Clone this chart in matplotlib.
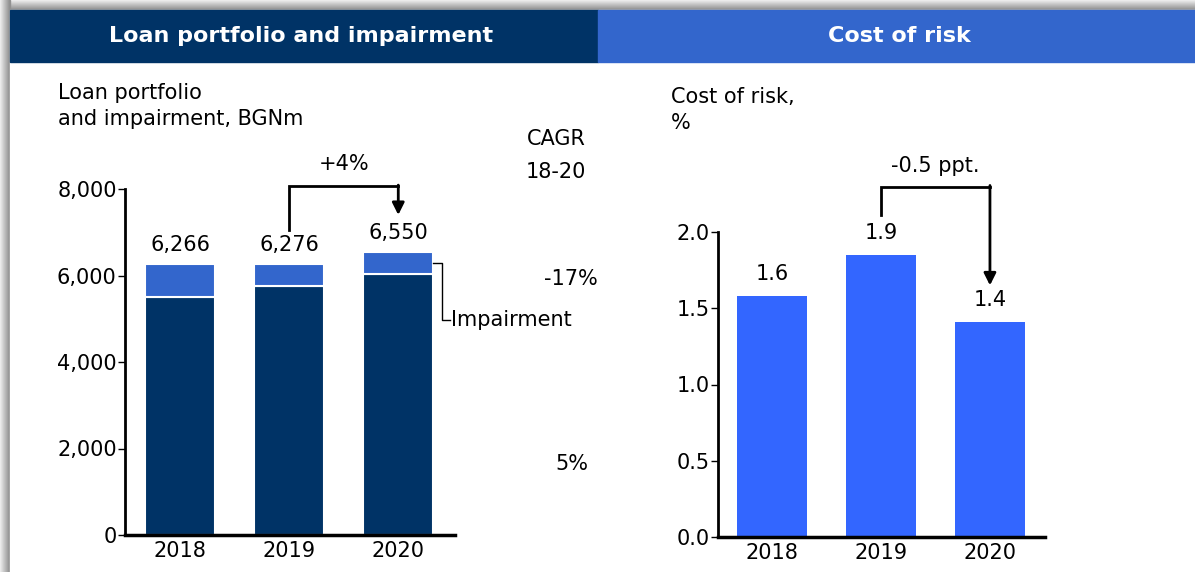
import numpy as np
import matplotlib.pyplot as plt
from matplotlib.patches import Rectangle

# data
years = ["2018", "2019", "2020"]
loans = [5500, 5760, 6035]
impairment = [766, 516, 515]
totals = [6266, 6276, 6550]
cost_of_risk = [1.58, 1.85, 1.41]
cor_labels = ["1.6", "1.9", "1.4"]
cagr_loans = "5%"
cagr_imp = "-17%"

W, H = 1195, 572
NAVY = "#003366"
MID = "#3366CC"
BRIGHT = "#3366FF"

plt.rcParams["font.family"] = ["DejaVu Sans"]
fig = plt.figure(figsize=(W / 100, H / 100), dpi=100)


def fx(px):
    return px / W


def fy(py):
    return 1 - py / H


# shadow on top and left edge
for i in range(10):
    g = 0.93 - 0.04 * i
    fig.patches.append(Rectangle((fx(i), 0), fx(1), 1, transform=fig.transFigure,
                                 color=(g, g, g), zorder=-3))
    fig.patches.append(Rectangle((fx(10), fy(i + 1)), 1, fy(0) - fy(1),
                                 transform=fig.transFigure, color=(g, g, g), zorder=-3))
fig.patches.append(Rectangle((fx(10), 0), 1, fy(10), transform=fig.transFigure,
                             color="white", zorder=-2))

# header bars
fig.patches.append(Rectangle((fx(10), fy(62)), fx(588), fy(10) - fy(62),
                             transform=fig.transFigure, color=NAVY, zorder=-1))
fig.patches.append(Rectangle((fx(598), fy(62)), fx(597), fy(10) - fy(62),
                             transform=fig.transFigure, color=MID, zorder=-1))
fig.text(fx(301), fy(36), "Loan portfolio and impairment", color="white",
         fontsize=16, fontweight="bold", ha="center", va="center")
fig.text(fx(899), fy(36), "Cost of risk", color="white",
         fontsize=16, fontweight="bold", ha="center", va="center")

x = np.arange(len(years))
fs = 15

# left chart
ax1 = fig.add_axes([fx(125), fy(535), fx(330), fy(189) - fy(535)])
ax1.bar(x, loans, width=0.64, color=NAVY, edgecolor="white", linewidth=1.5, zorder=2)
ax1.bar(x, impairment, bottom=loans, width=0.64, color=MID, edgecolor="white",
        linewidth=1.5, zorder=2)
ax1.set_xlim(-0.505, 2.52)
ax1.set_ylim(0, 8000)
ax1.set_yticks([0, 2000, 4000, 6000, 8000])
ax1.set_yticklabels(["0", "2,000", "4,000", "6,000", "8,000"])
for i, t in enumerate(totals):
    ax1.text(x[i], t + 200, f"{t:,}", ha="center", va="bottom", fontsize=fs,
             clip_on=False)

# +4% bracket
ax1.plot([1, 1, 2], [7050, 8070, 8070], color="black", lw=2, clip_on=False,
         solid_joinstyle="miter")
ax1.annotate("", xy=(2, 7400), xytext=(2, 8090),
             arrowprops=dict(arrowstyle="-|>", color="black", lw=2,
                             mutation_scale=18, shrinkA=0, shrinkB=0),
             annotation_clip=False)
ax1.text(0.5 * (1 + 2), 8350, "+4%", ha="center", va="bottom", fontsize=fs,
         clip_on=False)

# impairment callout
imp_mid = loans[2] + impairment[2] * 0.5
ax1.plot([2.32, 2.4, 2.4, 2.47], [imp_mid, imp_mid, 4960, 4960], color="black",
         lw=1, clip_on=False)
ax1.text(2.48, 4960, "Impairment", ha="left", va="center", fontsize=fs,
         clip_on=False)

# CAGR column
fig.text(fx(556), fy(139), "CAGR", ha="center", va="center", fontsize=fs)
fig.text(fx(556), fy(172), "18-20", ha="center", va="center", fontsize=fs)
fig.text(fx(571), fy(279), cagr_imp, ha="center", va="center", fontsize=fs)
fig.text(fx(572), fy(464), cagr_loans, ha="center", va="center", fontsize=fs)

fig.text(fx(58), fy(93), "Loan portfolio", ha="left", va="center", fontsize=fs)
fig.text(fx(58), fy(119), "and impairment, BGNm", ha="left", va="center", fontsize=fs)

# right chart
ax2 = fig.add_axes([fx(718), fy(537), fx(327), fy(232) - fy(537)])
ax2.bar(x, cost_of_risk, width=0.64, color=BRIGHT, zorder=2)
ax2.set_xlim(-0.495, 2.505)
ax2.set_ylim(0, 2.0)
ax2.set_yticks([0, 0.5, 1.0, 1.5, 2.0])
ax2.set_yticklabels(["0.0", "0.5", "1.0", "1.5", "2.0"])
for i, v in enumerate(cost_of_risk):
    ax2.text(x[i], v + 0.08, cor_labels[i], ha="center", va="bottom", fontsize=fs,
             clip_on=False)

ax2.plot([1, 1, 2], [2.11, 2.295, 2.295], color="black", lw=2, clip_on=False,
         solid_joinstyle="miter")
ax2.annotate("", xy=(2, 1.65), xytext=(2, 2.305),
             arrowprops=dict(arrowstyle="-|>", color="black", lw=2,
                             mutation_scale=18, shrinkA=0, shrinkB=0),
             annotation_clip=False)
ax2.text(1.5, 2.37, "-0.5 ppt.", ha="center", va="bottom", fontsize=fs,
         clip_on=False)

fig.text(fx(671), fy(97), "Cost of risk,", ha="left", va="center", fontsize=fs)
fig.text(fx(671), fy(123), "%", ha="left", va="center", fontsize=fs)

for ax in (ax1, ax2):
    ax.set_facecolor("none")
    ax.set_xticks(x)
    ax.set_xticklabels(years)
    ax.spines["top"].set_visible(False)
    ax.spines["right"].set_visible(False)
    ax.spines["left"].set_linewidth(2)
    ax.spines["bottom"].set_linewidth(2.5)
    ax.tick_params(axis="x", length=0, labelsize=fs, pad=4)
    ax.tick_params(axis="y", length=5, width=1, labelsize=fs, pad=1)

fig.savefig("out.png", dpi=100)
